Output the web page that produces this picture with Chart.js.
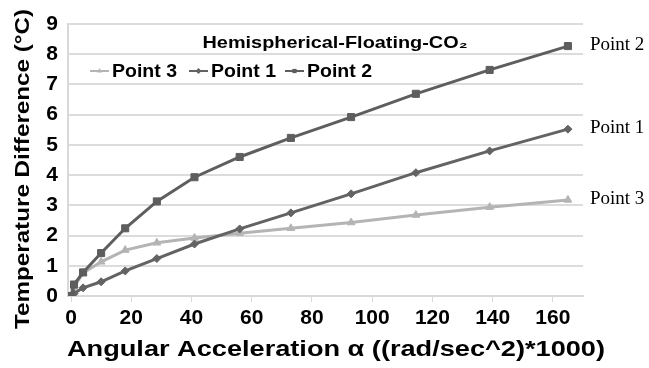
<!DOCTYPE html>
<html>
<head>
<meta charset="utf-8">
<script src="https://cdn.jsdelivr.net/npm/chart.js@4.4.1/dist/chart.umd.min.js"></script>
<style>
  html, body { margin: 0; padding: 0; background: #fff; }
  #wrap { width: 649px; height: 368px; }
</style>
</head>
<body>
<div id="wrap"><canvas id="tempChart"></canvas></div>
<script>
// x values (angular acceleration, (rad/sec^2)*1000)
const accel = [0, 1, 4, 10, 18, 28.5, 41, 56, 73, 93, 114.5, 139, 165];

// temperature difference per measuring point
const point2 = [0, 0.38, 0.78, 1.42, 2.24, 3.13, 3.93, 4.6, 5.23, 5.92, 6.69, 7.48, 8.27];
const point1 = [0, 0.08, 0.27, 0.47, 0.83, 1.24, 1.72, 2.22, 2.75, 3.38, 4.08, 4.8, 5.52];
const point3 = [0, 0.3, 0.76, 1.13, 1.52, 1.76, 1.92, 2.08, 2.24, 2.43, 2.68, 2.94, 3.18];

const xTicks = [0, 20, 40, 60, 80, 100, 120, 140, 160];

const titleText = "Hemispherical-Floating-CO\u2082";
const xTitle = "Angular Acceleration \u03b1 ((rad/sec^2)*1000)";
const yTitle = "Temperature Difference (\u00b0C)";
const legendOrder = ["Point 3", "Point 1", "Point 2"];

const SANS = "'Liberation Sans', Arial, sans-serif";

function toXY(ys) {
  return accel.map((x, i) => ({ x: x, y: ys[i] }));
}

// the original text is a bit wider than Arial, stretch it horizontally
function stretchedText(ctx, text, cx, cy, width, angle) {
  ctx.save();
  ctx.translate(cx, cy);
  ctx.rotate(angle || 0);
  const w = ctx.measureText(text).width;
  ctx.scale(width / w, 1);
  ctx.textAlign = "center";
  ctx.textBaseline = "middle";
  ctx.fillText(text, 0, 0);
  ctx.restore();
}

//---------------------------------------------------
// Titles, inner legend and end labels
//---------------------------------------------------

const overlayPlugin = {
  id: "overlay",
  afterDraw(chart) {
    const ctx = chart.ctx;
    const area = chart.chartArea;
    ctx.save();
    ctx.fillStyle = "#000";

    // axis titles
    ctx.font = "bold 22px " + SANS;
    stretchedText(ctx, xTitle, 336, 350, 538, 0);
    ctx.font = "bold 21px " + SANS;
    stretchedText(ctx, yTitle, 23, 169, 320, -Math.PI / 2);

    // chart title
    ctx.font = "bold 17px " + SANS;
    stretchedText(ctx, titleText, 335, 43, 265, 0);

    // legend
    ctx.font = "bold 18px " + SANS;
    const ly = 71;
    const starts = [90, 189, 285];
    legendOrder.forEach((name, k) => {
      const idx = chart.data.datasets.findIndex((d) => d.label === name);
      const ds = chart.data.datasets[idx];
      const x = starts[k];
      ctx.strokeStyle = ds.borderColor;
      ctx.lineWidth = 2;
      ctx.beginPath();
      ctx.moveTo(x, ly);
      ctx.lineTo(x + 19, ly);
      ctx.stroke();
      ctx.fillStyle = ds.pointBackgroundColor;
      Chart.helpers.drawPoint(ctx, {
        pointStyle: ds.pointStyle,
        radius: 3,
        borderWidth: 0,
      }, x + 9.5, ly);
      ctx.fillStyle = "#000";
      stretchedText(ctx, name, x + 22 + 32.5, ly + 1, 65, 0);
    });

    // end-of-line labels
    ctx.font = "19px 'Liberation Serif', 'Times New Roman', serif";
    ctx.textAlign = "left";
    ctx.textBaseline = "middle";
    chart.data.datasets.forEach((ds, i) => {
      const meta = chart.getDatasetMeta(i);
      const last = meta.data[meta.data.length - 1];
      ctx.fillText(ds.label, area.right + 7, last.y - 1);
    });

    ctx.restore();
  },
};

//---------------------------------------------------
// Chart
//---------------------------------------------------

const ctx = document.getElementById("tempChart");
const tickFont = { family: SANS, size: 21, weight: "bold" };

function seriesStyle(color, style, radius) {
  return {
    borderColor: color,
    backgroundColor: color,
    pointBackgroundColor: color,
    pointBorderColor: color,
    pointBorderWidth: 1,
    pointStyle: style,
    pointRadius: radius,
    borderWidth: 3,
    tension: 0,
  };
}

const chart = new Chart(ctx, {
  type: "line",
  data: {
    datasets: [
      Object.assign({ label: "Point 2", data: toXY(point2) }, seriesStyle("#5e5e5e", "rect", 5)),
      Object.assign({ label: "Point 1", data: toXY(point1) }, seriesStyle("#636363", "rectRot", 4)),
      Object.assign({ label: "Point 3", data: toXY(point3) }, seriesStyle("#b4b4b4", "triangle", 4.5)),
    ],
  },
  options: {
    responsive: true,
    maintainAspectRatio: false,
    animation: false,
    layout: { padding: { left: 8, right: 66, top: 24, bottom: 0 } },
    plugins: {
      legend: { display: false },
      tooltip: { enabled: false },
    },
    scales: {
      x: {
        type: "linear",
        min: -1,
        max: 170,
        afterFit: (scale) => { scale.height = 72; },
        afterBuildTicks: (scale) => {
          scale.ticks = xTicks.map((v) => ({ value: v }));
        },
        ticks: { color: "#000", font: tickFont, padding: 4 },
        grid: { drawOnChartArea: false, color: "#d9d9d9", tickLength: 6 },
        border: { color: "#d9d9d9", width: 2 },
      },
      y: {
        min: 0,
        max: 9,
        afterFit: (scale) => { scale.width = 60; },
        ticks: { stepSize: 1, color: "#000", font: tickFont, padding: 10 },
        grid: { color: "#dcdcdc", lineWidth: 2, drawTicks: false },
        border: { color: "#d9d9d9", width: 2 },
      },
    },
  },
  plugins: [overlayPlugin],
});
</script>
</body>
</html>
